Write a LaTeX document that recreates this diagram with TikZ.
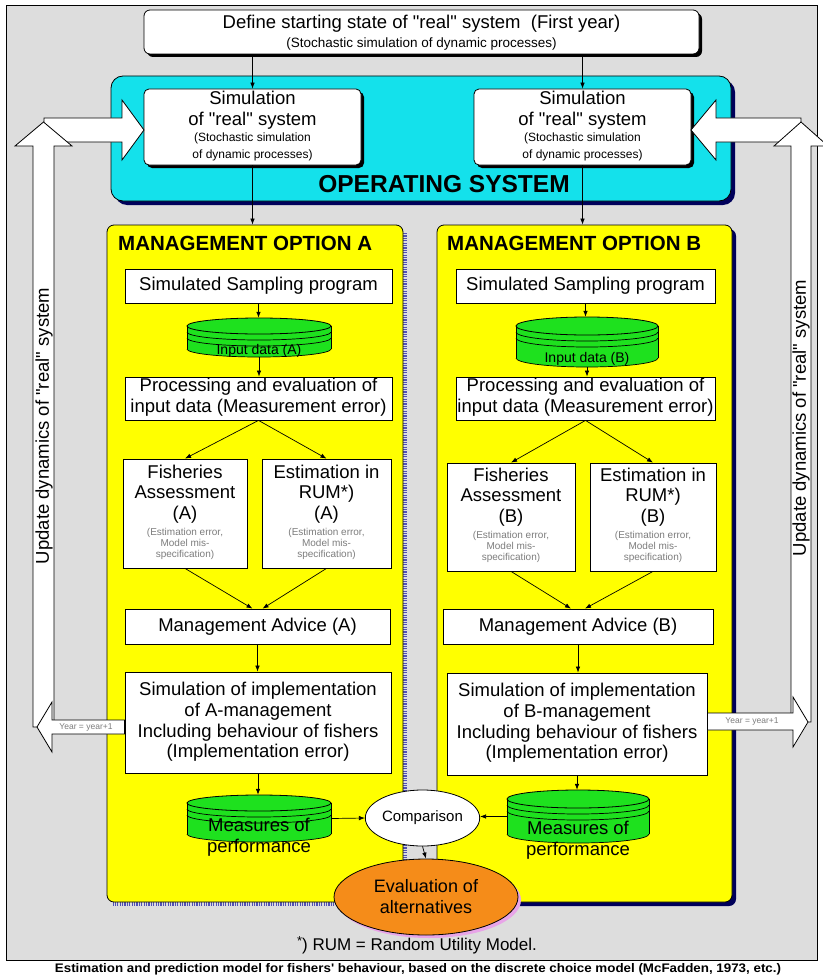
\documentclass[tikz,border=0pt]{standalone}
\usepackage{fontspec}
\setmainfont{Liberation Sans}[Ligatures=TeXOff]
\usetikzlibrary{arrows.meta,shapes.geometric,shadows}
\definecolor{panelgray}{RGB}{221,221,221}
\definecolor{opcyan}{RGB}{20,225,235}
\definecolor{myyellow}{RGB}{255,255,0}
\definecolor{cylgreen}{RGB}{30,225,30}
\definecolor{evalorange}{RGB}{245,140,25}
\definecolor{pinkshadow}{RGB}{232,165,232}
\definecolor{navyshadow}{RGB}{0,0,90}
\definecolor{dotblue}{RGB}{80,80,180}
\definecolor{smallgray}{RGB}{125,125,125}
\newcommand\dq{\symbol{34}}
\newcommand\fsM{\fontsize{18.5}{20.7}\selectfont}
\newcommand\fsSim{\fontsize{12}{17}\selectfont}
\newcommand\fsTiny{\fontsize{10}{11}\selectfont}
\newcommand\fsYear{\fontsize{8.5}{10}\selectfont}
\newcommand\cylring[4]{\begin{scope}\clip (#1-#3-1,#2) rectangle (#1+#3+1,#2+#4+1);\draw[line width=0.7pt] (#1,#2) ellipse[x radius=#3pt,y radius=#4pt];\end{scope}}
\newcommand\drawcyl[5]{%
  \fill[cylgreen] (#1-#3,#2) rectangle (#1+#3,#2+#5);
  \fill[cylgreen] (#1,#2+#5) ellipse[x radius=#3pt,y radius=#4pt];
  \cylring{#1}{#2+#5}{#3}{#4}%
  \draw[line width=0.8pt] (#1-#3,#2) -- (#1-#3,#2+#5) (#1+#3,#2) -- (#1+#3,#2+#5);
  \cylring{#1}{#2+6}{#3}{#4}%
  \cylring{#1}{#2+12}{#3}{#4}%
  \filldraw[fill=cylgreen,draw=black,line width=0.8pt] (#1,#2) ellipse[x radius=#3pt,y radius=#4pt];
}
\begin{document}
\begin{tikzpicture}[x=1pt,y=-1pt,
  bx/.style={draw=black, fill=white, line width=0.8pt, inner sep=0pt},
  txt/.style={inner sep=0pt, align=center, font=\fsM},
  simtxt/.style={inner sep=0pt, align=center, font=\fsSim},
  tinytxt/.style={inner sep=0pt, align=center, font=\fsTiny, text=smallgray},
  yeartxt/.style={inner sep=0pt, font=\fsYear, text=smallgray},
  title/.style={inner sep=0pt, anchor=west, font=\fontsize{20.5}{24}\selectfont\bfseries},
  arr/.style={-{Latex[length=6pt,width=4.5pt]}, line width=0.7pt},
  fat/.style={draw=black, fill=white, line width=0.8pt, line join=miter},
  cylnode/.style={inner sep=0pt},
  blackshadow/.style={drop shadow={shadow xshift=3pt,shadow yshift=-3pt,fill=black,opacity=1}},
  navshadow/.style={drop shadow={shadow xshift=4pt,shadow yshift=-4pt,fill=navyshadow,opacity=1}},
]
\useasboundingbox (0,0) rectangle (822,979);
\fill[white] (0,0) rectangle (822,979);
% panel
\draw[fill=panelgray, line width=1pt] (6,6) rectangle (817,960);

% operating system
\node[draw=black, fill=opcyan, rounded corners=12pt, line width=0.8pt, minimum width=620pt, minimum height=125pt, navshadow] (opsys) at (421,138.5) {};
\node[inner sep=0pt, font=\fontsize{24.5}{28}\selectfont\bfseries] (opsyst) at (444,184) {OPERATING SYSTEM};

% top box
\node[bx, rounded corners=6pt, minimum width=555pt, minimum height=44pt, blackshadow] (top) at (421.5,32) {};
\node[txt] (topt1) at (421.5,24) {Define starting state of \dq real\dq{} system\ \ (First year)};
\node[inner sep=0pt, font=\fontsize{13.5}{16}\selectfont] (topt2) at (421.5,44) {(Stochastic simulation of dynamic processes)};

% simulation boxes
\node[bx, rounded corners=5pt, minimum width=217pt, minimum height=76pt, blackshadow] (simL) at (252.5,127) {};
\node[txt] (simLt) at (252.5,110) {Simulation\\of \dq real\dq{} system};
\node[simtxt] (simLs) at (252.5,146.5) {(Stochastic simulation\\of dynamic processes)};
\node[bx, rounded corners=5pt, minimum width=217pt, minimum height=76pt, blackshadow] (simR) at (582.5,127) {};
\node[txt] (simRt) at (582.5,110) {Simulation\\of \dq real\dq{} system};
\node[simtxt] (simRs) at (582.5,146.5) {(Stochastic simulation\\of dynamic processes)};

% management boxes
\draw[dotblue, line width=3.5pt, dash pattern=on 1.2pt off 1.2pt] (405,233) -- (405,904) -- (113,904);
\node[draw=black, fill=myyellow, rounded corners=7pt, line width=0.8pt, minimum width=296pt, minimum height=677pt] (mgmtA) at (255,563.5) {};
\node[draw=black, fill=myyellow, rounded corners=7pt, line width=0.8pt, minimum width=295pt, minimum height=677pt, navshadow] (mgmtB) at (584.5,563.5) {};
\node[title] (titA) at (118,243) {MANAGEMENT OPTION A};
\node[title] (titB) at (447,243) {MANAGEMENT OPTION B};

% ---- option A
\node[bx, minimum width=267pt, minimum height=34pt] (sampA) at (258.5,286) {};
\node[txt] (sampAt) at (258.5,286) {Simulated Sampling program};
\drawcyl{259}{326}{72}{8}{23}
\node[cylnode, minimum width=144pt, minimum height=39pt] (inA) at (259,337.5) {};
\node[inner sep=0pt, font=\fontsize{14}{16}\selectfont] (inAt) at (259,351) {Input data (A)};
\node[bx, minimum width=267pt, minimum height=43pt] (procA) at (258.5,398.5) {};
\node[txt] (procAt) at (258.5,397.5) {Processing and evaluation of\\input data (Measurement error)};
\node[bx, minimum width=124pt, minimum height=109pt] (fishA) at (185,513.5) {};
\node[txt] (fishAt) at (185,494) {Fisheries\\Assessment\\(A)};
\node[tinytxt] (fishAs) at (185,544) {(Estimation error,\\Model mis-\\specification)};
\node[bx, minimum width=129pt, minimum height=109pt] (estA) at (326.5,513.5) {};
\node[txt] (estAt) at (326.5,494) {Estimation in\\RUM*)\\(A)};
\node[tinytxt] (estAs) at (326.5,544) {(Estimation error,\\Model mis-\\specification)};
\node[bx, minimum width=265pt, minimum height=35pt] (advA) at (257.5,626.5) {};
\node[txt] (advAt) at (257.5,626.5) {Management Advice (A)};
\node[bx, minimum width=266pt, minimum height=101pt] (implA) at (258,722.5) {};
\node[txt] (implAt) at (258,722) {Simulation of implementation\\of A-management\\Including behaviour of fishers\\(Implementation error)};
\drawcyl{259}{803}{72}{8}{31}
\node[cylnode, minimum width=144pt, minimum height=47pt] (measA) at (259,818.5) {};
\node[txt] (measAt) at (259,837.5) {Measures of\\performance};

% ---- option B
\node[bx, minimum width=259pt, minimum height=34pt] (sampB) at (585.5,286) {};
\node[txt] (sampBt) at (585.5,286) {Simulated Sampling program};
\drawcyl{587}{326}{71}{9}{32}
\node[cylnode, minimum width=142pt, minimum height=50pt] (inB) at (587,342) {};
\node[inner sep=0pt, font=\fontsize{14}{16}\selectfont] (inBt) at (587,359) {Input data (B)};
\node[bx, minimum width=259pt, minimum height=43pt] (procB) at (585.5,398.5) {};
\node[txt] (procBt) at (585.5,397.5) {Processing and evaluation of\\input data (Measurement error)};
\node[bx, minimum width=128pt, minimum height=108pt] (fishB) at (511,517) {};
\node[txt] (fishBt) at (511,497) {Fisheries\\Assessment\\(B)};
\node[tinytxt] (fishBs) at (511,547) {(Estimation error,\\Model mis-\\specification)};
\node[bx, minimum width=126pt, minimum height=108pt] (estB) at (653,517) {};
\node[txt] (estBt) at (653,497) {Estimation in\\RUM*)\\(B)};
\node[tinytxt] (estBs) at (653,547) {(Estimation error,\\Model mis-\\specification)};
\node[bx, minimum width=270pt, minimum height=35pt] (advB) at (578,626.5) {};
\node[txt] (advBt) at (578,626.5) {Management Advice (B)};
\node[bx, minimum width=260pt, minimum height=102pt] (implB) at (577,724) {};
\node[txt] (implBt) at (577,723) {Simulation of implementation\\of B-management\\Including behaviour of fishers\\(Implementation error)};
\drawcyl{578}{799}{71}{9}{35}
\node[cylnode, minimum width=142pt, minimum height=53pt] (measB) at (578,816.5) {};
\node[txt] (measBt) at (578,840.5) {Measures of\\performance};

% ---- side arrows (left)
\coordinate (feedL) at (144,130);
\filldraw[fat] (44,118) -- (122,118) -- (122,100) -- (feedL) -- (122,160) -- (122,142) -- (44,142) -- cycle;
\filldraw[fat] (33,727) -- (33,146) -- (15,146) -- (43.5,122) -- (72,146) -- (54,146) -- (54,727) -- cycle;
\node[txt, rotate=90] (updL) at (44,426) {Update dynamics of \dq real\dq{} system};
\coordinate (yearL) at (37,727);
\filldraw[fat] (implA.west |- 0,720) -- (52,720) -- (52,702) -- (yearL) -- (52,752) -- (52,734) -- (implA.west |- 0,734) -- cycle;
\node[yeartxt] (yearLt) at (86,727) {Year = year+1};

% ---- side arrows (right)
\coordinate (feedR) at (691,130);
\filldraw[fat] (801,118) -- (716,118) -- (716,100) -- (feedR) -- (716,160) -- (716,142) -- (801,142) -- cycle;
\filldraw[fat] (791,722) -- (791,146) -- (774,146) -- (801,122) -- (828,146) -- (811,146) -- (811,722) -- cycle;
\node[txt, rotate=90] (updR) at (801,418) {Update dynamics of \dq real\dq{} system};
\coordinate (yearR) at (808,722);
\filldraw[fat] (implB.east |- 0,713) -- (793,713) -- (793,697) -- (yearR) -- (793,747) -- (793,730) -- (implB.east |- 0,730) -- cycle;
\node[yeartxt] (yearRt) at (752,721.5) {Year = year+1};

% ---- connectors
\draw[arr] (top.south -| simL.north) -- (simL.north);
\draw[arr] (top.south -| simR.north) -- (simR.north);
\draw[arr] (simL.south) -- (simL.south |- mgmtA.north);
\draw[arr] (simR.south) -- (simR.south |- mgmtB.north);

\draw[arr] (sampA.south) -- (sampA.south |- inA.north);
\draw[arr] (inA.south) -- (inA.south |- procA.north);
\draw[arr] (procA.south) -- (fishA.north);
\draw[arr] (procA.south) -- (estA.north);
\draw[arr] (fishA.south) -- ([xshift=-5pt]advA.north);
\draw[arr] (estA.south) -- ([xshift=5pt]advA.north);
\draw[arr] (advA.south) -- (advA.south |- implA.north);
\draw[arr] (implA.south) -- (implA.south |- measA.north);

\draw[arr] (sampB.south) -- (sampB.south |- inB.north);
\draw[arr] (inB.south) -- (inB.south |- procB.north);
\draw[arr] (procB.south) -- (fishB.north);
\draw[arr] (procB.south) -- (estB.north);
\draw[arr] (fishB.south) -- ([xshift=-7pt]advB.north);
\draw[arr] (estB.south) -- ([xshift=7pt]advB.north);
\draw[arr] (advB.south) -- (advB.south |- implB.north);
\draw[arr] (implB.south) -- (implB.south |- measB.north);

% ---- comparison and evaluation
\node[ellipse, draw=black, fill=white, line width=0.8pt, minimum width=100pt, minimum height=56pt, inner sep=0pt, font=\fontsize{15}{17}\selectfont] (comp) at (422.5,818) {Comparison};
\node[ellipse, draw=black, fill=evalorange, line width=0.8pt, minimum width=184pt, minimum height=76pt, inner sep=0pt, align=center, font=\fontsize{18}{21}\selectfont, drop shadow={shadow xshift=3pt,shadow yshift=-3pt,fill=pinkshadow,opacity=1}] (eval) at (426,897) {Evaluation of\\alternatives};
\draw[arr] (measA.east) -- (comp.west);
\draw[arr] (measB.west) -- (measB.west -| comp.east);
\draw[arr] (comp.south) -- (eval.north);

% ---- footnotes
\node[inner sep=0pt, font=\fontsize{17}{20}\selectfont] (rum) at (417,945) {\raisebox{5pt}{\fontsize{13}{13}\selectfont *}) RUM = Random Utility Model.};
\node[inner sep=0pt] (estim) at (418,969) {\resizebox{726pt}{9pt}{\bfseries Estimation and prediction model for fishers' behaviour, based on the discrete choice model (McFadden, 1973, etc.)}};
\end{tikzpicture}
\end{document}
